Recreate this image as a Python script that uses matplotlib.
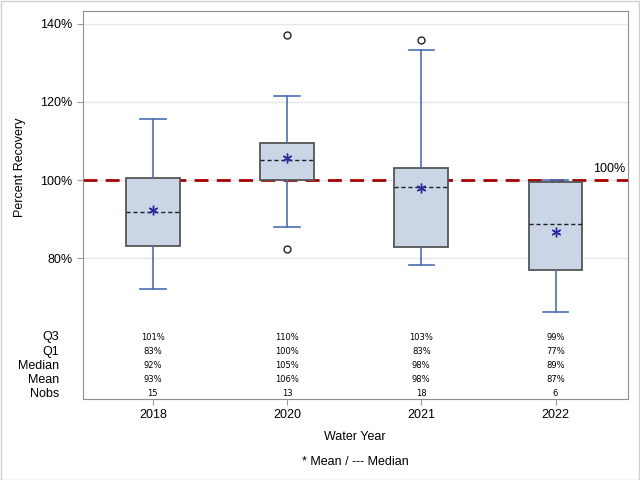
import matplotlib.pyplot as plt
from matplotlib.patches import Rectangle
import matplotlib.transforms as mtransforms

plt.rcParams['font.family'] = ['Liberation Sans', 'DejaVu Sans']

# box statistics (percent)
years = ['2018', '2020', '2021', '2022']
q1 = [83.1, 100.0, 82.9, 77.0]
q3 = [100.5, 109.5, 103.1, 99.5]
medians = [91.8, 105.1, 98.3, 88.8]
means = [92.5, 105.6, 98.0, 86.7]
whis_lo = [72.2, 88.0, 78.3, 66.3]
whis_hi = [115.6, 121.5, 133.2, 100.0]
outliers = [[], [137.0, 82.4], [135.8], []]
nobs = [15, 13, 18, 6]

# summary table text
q3_lbl = ['101%', '110%', '103%', '99%']
q1_lbl = ['83%', '100%', '83%', '77%']
med_lbl = ['92%', '105%', '98%', '89%']
mean_lbl = ['93%', '106%', '98%', '87%']
nobs_lbl = [str(n) for n in nobs]

stats = []
for i in range(len(years)):
    stats.append(dict(med=medians[i], q1=q1[i], q3=q3[i], whislo=whis_lo[i],
                      whishi=whis_hi[i], mean=means[i], fliers=outliers[i], label=years[i]))

fig = plt.figure(figsize=(6.4, 4.8), dpi=100)
ax = fig.add_axes([83/640, 1-399/480, 545/640, 388/480])

# gridlines first
ax.set_axisbelow(True)
ax.yaxis.grid(True, color='#E6E6E6', linewidth=1)

# 100% reference line
ax.axhline(100, color='#A50000', linestyle=(0, (5, 3)), linewidth=2, zorder=1)
ax.text(3.52, 101.2, '100%', ha='right', va='bottom', fontsize=9)

ax.bxp(stats, positions=range(len(years)), widths=0.4, patch_artist=True,
       showmeans=True, meanline=False,
       boxprops=dict(facecolor='#CAD5E5', edgecolor='#555555', linewidth=1.3),
       medianprops=dict(color='#222222', linestyle=(0, (3, 2)), linewidth=1),
       whiskerprops=dict(color='#4A6FB5', linewidth=1.2),
       capprops=dict(color='#4A6FB5', linewidth=1.2),
       capwidths=0.19,
       meanprops=dict(marker=(6, 2, 0), markeredgecolor='#2A2AA0', markerfacecolor='#2A2AA0',
                      markersize=7, markeredgewidth=1),
       flierprops=dict(marker='o', markerfacecolor='none', markeredgecolor='#222222',
                       markersize=5, markeredgewidth=1))

ax.set_xlim(-0.52, 3.54)
ax.set_ylim(44.1, 143.2)
ax.set_yticks([80, 100, 120, 140])
ax.set_yticklabels(['80%', '100%', '120%', '140%'], fontsize=9)
ax.set_xticks(range(len(years)))
ax.set_xticklabels(years, fontsize=9)
ax.tick_params(axis='both', color='#9A9A9A', length=4)
ax.tick_params(axis='x', pad=3)
for s in ax.spines.values():
    s.set_color('#8F8F8F')

# statistics table inside the axes bottom
trans = mtransforms.blended_transform_factory(ax.transData, ax.transAxes)
rows = [('Q3', q3_lbl), ('Q1', q1_lbl), ('Median', med_lbl), ('Mean', mean_lbl), ('Nobs', nobs_lbl)]
row_y = [337, 352, 366, 380, 394]
for (name, vals), py in zip(rows, row_y):
    ya = (399 - py) / 388
    fig.text(59/640, 1 - py/480, name, ha='right', va='center', fontsize=9)
    for i, v in enumerate(vals):
        ax.text(i, ya, v, transform=trans, ha='center', va='center', fontsize=6,
                family='DejaVu Sans')

fig.text(20/640, 1 - 167/480, 'Percent Recovery', rotation=90, ha='center', va='center', fontsize=9)
fig.text(355/640, 1 - 437/480, 'Water Year', ha='center', va='center', fontsize=9)
fig.text(355/640, 1 - 462/480, '* Mean / --- Median', ha='center', va='center', fontsize=9)

# light outer border
fig.patches.append(Rectangle((0.5/640, 0.5/480), 1 - 1.5/640, 1 - 1.5/480, transform=fig.transFigure,
                             fill=False, edgecolor='#D0D0D0', linewidth=1))

fig.savefig('out.png', dpi=100)
